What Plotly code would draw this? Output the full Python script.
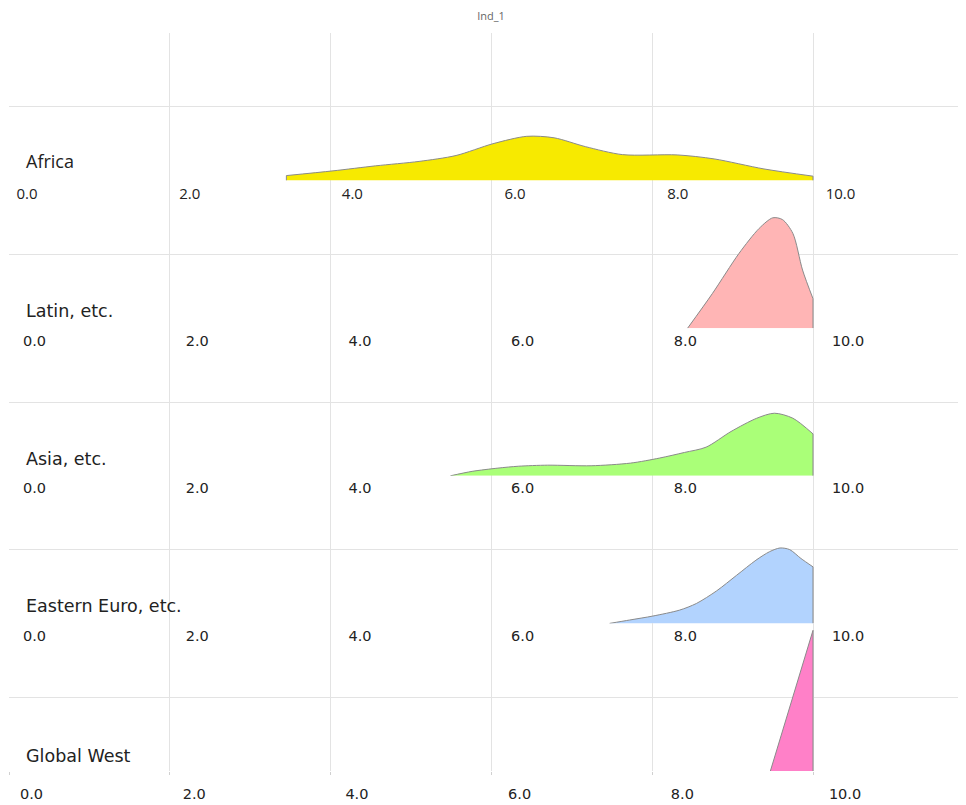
import plotly.graph_objects as go

# ---- data ----
categories = ["Africa", "Latin, etc.", "Asia, etc.", "Eastern Euro, etc.", "Global West"]
colors = ["#f7ea00", "#ffb5b5", "#aaff78", "#b2d3fe", "#ff80c8"]

africa_x = [3.45, 4.03, 4.56, 5.10, 5.56, 6.02, 6.44, 6.78, 7.17, 7.63, 8.31, 8.77, 9.39, 10.0]
africa_y = [0.034, 0.066, 0.10, 0.13, 0.17, 0.25, 0.30, 0.29, 0.23, 0.176, 0.174, 0.147, 0.079, 0.03]

latin_x = [8.44, 8.75, 9.08, 9.33, 9.50, 9.62, 9.75, 9.87, 10.0]
latin_y = [0, 0.236, 0.507, 0.676, 0.748, 0.736, 0.642, 0.394, 0.20]

asia_x = [5.49, 5.76, 6.08, 6.34, 6.70, 7.24, 7.73, 8.09, 8.40, 8.67, 8.98, 9.30, 9.52, 9.75, 10.0]
asia_y = [0, 0.03, 0.052, 0.065, 0.072, 0.068, 0.086, 0.12, 0.158, 0.194, 0.30, 0.39, 0.424, 0.39, 0.284]

euro_x = [7.47, 7.72, 8.01, 8.34, 8.55, 8.80, 9.05, 9.29, 9.46, 9.59, 9.71, 9.85, 10.0]
euro_y = [0, 0.023, 0.05, 0.09, 0.135, 0.22, 0.326, 0.428, 0.486, 0.511, 0.50, 0.44, 0.383]

west_x = [9.47, 10.0]
west_y = [0, 0.953]

series_x = [africa_x, latin_x, asia_x, euro_x, west_x]
series_y = [africa_y, latin_y, asia_y, euro_y, west_y]

tick_vals = [0, 2, 4, 6, 8, 10]
tick_text = ["0.0", "2.0", "4.0", "6.0", "8.0", "10.0"]

# ---- figure ----
W, H = 966, 805
ML, MR, MT, MB = 1, 0, 25, 42
plot_w = W - ML - MR
n = len(categories)
grid_range = [0, plot_w / 80.4]
label_span = plot_w / 81.35
label_starts = [-0.221, -0.314, -0.314, -0.314, -0.277]
grid_col = "#e3e3e3"
edge_col = "#8a8a8a"

fig = go.Figure()
layout = dict(
    width=W, height=H,
    margin=dict(l=ML, r=MR, t=MT, b=MB, autoexpand=False),
    plot_bgcolor="white", paper_bgcolor="white",
    showlegend=False,
    title=dict(text="Ind_1", x=0.5, xanchor="center", y=1 - 8 / H, yanchor="middle",
               yref="container", font=dict(family="Open Sans", size=11, color="#666666")),
)

annotations = []
for i in range(n):
    k = i + 1
    ya = "y" if k == 1 else f"y{k}"
    xa = "x" if k == 1 else f"x{k}"
    la = f"x{k + n}"
    top = 1 - i / n
    bot = 1 - (i + 1) / n
    layout["yaxis" if k == 1 else f"yaxis{k}"] = dict(
        domain=[bot, top], range=[0, 1], dtick=0.5, showticklabels=False,
        showgrid=True, gridcolor=grid_col, zeroline=False, showline=False,
        anchor=xa, fixedrange=True, automargin=False)
    last = (i == n - 1)
    layout["xaxis" if k == 1 else f"xaxis{k}"] = dict(
        range=grid_range, tickvals=tick_vals, showticklabels=False,
        showgrid=True, gridcolor=grid_col, zeroline=False, showline=False,
        ticks="outside" if last else "", ticklen=3, tickcolor="#d0d0d0",
        anchor=ya, automargin=False)
    row1 = (i == 0)
    layout[f"xaxis{k + n}"] = dict(
        range=[label_starts[i], label_starts[i] + label_span],
        tickvals=tick_vals, ticktext=tick_text, showgrid=False, zeroline=False,
        showline=False, ticks="", overlaying=xa, anchor=ya, side="bottom",
        ticklabelstandoff=(12 if last else 2), automargin=False,
        tickfont=dict(family="Open Sans" if row1 else "DejaVu Sans",
                      size=15 if row1 else 14.5, color="#222222"))
    xs, ys = series_x[i], series_y[i]
    fig.add_trace(go.Scatter(
        x=xs, y=ys, xaxis=xa, yaxis=ya,
        mode="lines", line=dict(color=edge_col, width=1, shape="spline", smoothing=0.8),
        fill="tozeroy", fillcolor=colors[i], hoverinfo="skip"))
    # straight outline on the cut-off ends of the density
    fig.add_trace(go.Scatter(
        x=[xs[-1], xs[-1]], y=[ys[-1], 0], xaxis=xa, yaxis=ya, mode="lines",
        line=dict(color=edge_col, width=1), hoverinfo="skip"))
    if ys[0] > 0:
        fig.add_trace(go.Scatter(
            x=[xs[0], xs[0]], y=[0, ys[0]], xaxis=xa, yaxis=ya, mode="lines",
            line=dict(color=edge_col, width=1), hoverinfo="skip"))
    fig.add_trace(go.Scatter(x=[None], y=[None], xaxis=la, yaxis=ya, mode="lines",
                             hoverinfo="skip"))
    ylab = [0.135, 0.115, 0.115, 0.115, 0.10][i]
    annotations.append(dict(
        text=categories[i], xref="paper", x=(16 - ML) / plot_w, xanchor="left",
        yref=ya, y=ylab, yanchor="middle", showarrow=False,
        font=dict(family="Open Sans" if row1 else "DejaVu Sans",
                  size=18 if row1 else 17.5, color="#222222")))

layout["annotations"] = annotations
fig.update_layout(**layout)
fig.write_html("out.html")
